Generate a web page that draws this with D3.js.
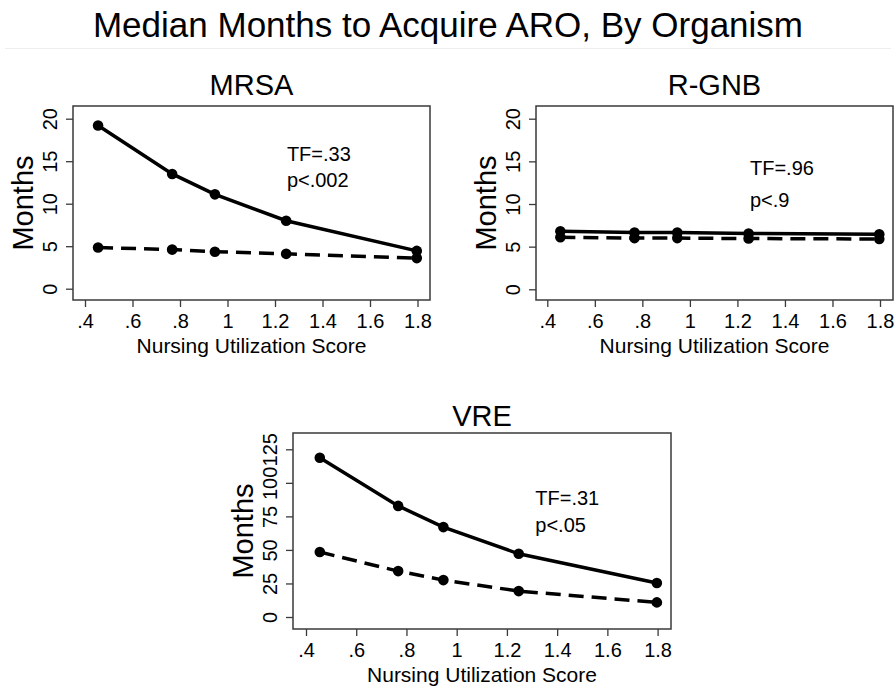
<!DOCTYPE html>
<html>
<head>
<meta charset="utf-8">
<script src="https://cdn.jsdelivr.net/npm/d3@7"></script>
<style>
  body { margin: 0; background: #fff; }
  text { font-family: "Liberation Sans", Arial, Helvetica, sans-serif; fill: #000; }
</style>
</head>
<body>
<svg id="chart" width="896" height="687"></svg>
<script>
// data
const scores = [0.455, 0.767, 0.947, 1.247, 1.797]
const xTicks = [0.4, 0.6, 0.8, 1, 1.2, 1.4, 1.6, 1.8]
const xTickLabels = ['.4', '.6', '.8', '1', '1.2', '1.4', '1.6', '1.8']

const mrsaSolid = [19.2, 13.5, 11.1, 8.0, 4.45]
const mrsaDashed = [4.85, 4.6, 4.35, 4.1, 3.6]
const gnbSolid = [6.8, 6.65, 6.65, 6.55, 6.45]
const gnbDashed = [6.1, 6.0, 6.0, 5.95, 5.9]
const vreSolid = [118.7, 82.8, 67.0, 47.1, 25.3]
const vreDashed = [48.4, 34.2, 27.5, 19.3, 10.9]

const smallTicks = [0, 5, 10, 15, 20]
const bigTicks = [0, 25, 50, 75, 100, 125]

const panelNames = ['MRSA', 'R-GNB', 'VRE']
const tfLabels = ['TF=.33', 'TF=.96', 'TF=.31']
const pLabels = ['p<.002', 'p<.9', 'p<.05']

// layout
const panels = [
  { name: panelNames[0], solid: mrsaSolid, dashed: mrsaDashed, yTicks: smallTicks,
    box: { left: 73, top: 106, right: 430, bottom: 300 }, pad: { l: 12, r: 12.5, t: 12.7, b: 11.3 },
    tf: tfLabels[0], p: pLabels[0], note: { x: 1.25, y1: 15, y2: 12 }, titleGap: 11 },
  { name: panelNames[1], solid: gnbSolid, dashed: gnbDashed, yTicks: smallTicks,
    box: { left: 536, top: 106, right: 893, bottom: 300 }, pad: { l: 11.3, r: 13, t: 12.7, b: 10.7 },
    tf: tfLabels[1], p: pLabels[1], note: { x: 1.253, y1: 13.4, y2: 9.7 }, titleGap: 11 },
  { name: panelNames[2], solid: vreSolid, dashed: vreDashed, yTicks: bigTicks,
    box: { left: 293, top: 433, right: 671, bottom: 629 }, pad: { l: 13, r: 13.4, t: 16.3, b: 12 },
    tf: tfLabels[2], p: pLabels[2], note: { x: 1.313, y1: 83.6, y2: 63.7 }, titleGap: 7 }
]

const svg = d3.select('#chart')

svg.append('text')
  .attr('x', 448)
  .attr('y', 37)
  .attr('text-anchor', 'middle')
  .attr('font-size', 35)
  .text('Median Months to Acquire ARO, By Organism')

svg.append('line')
  .attr('x1', 5).attr('x2', 891)
  .attr('y1', 48.5).attr('y2', 48.5)
  .attr('stroke', '#eeeeee')
  .attr('stroke-width', 1)

const frameColor = '#3a3a3a'

panels.forEach(pn => {
  const b = pn.box
  const x = d3.scaleLinear().domain([0.4, 1.8]).range([b.left + pn.pad.l, b.right - pn.pad.r])
  const yMax = d3.max(pn.yTicks)
  const y = d3.scaleLinear().domain([0, yMax]).range([b.bottom - pn.pad.b, b.top + pn.pad.t])

  const g = svg.append('g')

  // frame
  g.append('rect')
    .attr('x', b.left).attr('y', b.top)
    .attr('width', b.right - b.left).attr('height', b.bottom - b.top)
    .attr('fill', 'none')
    .attr('stroke', frameColor)
    .attr('stroke-width', 1.5)

  // x axis
  const xAxis = g.append('g')
    .attr('transform', `translate(0,${b.bottom})`)
    .call(d3.axisBottom(x).tickValues(xTicks).tickSize(7).tickSizeOuter(0)
      .tickFormat((d, i) => xTickLabels[i]))
  xAxis.select('.domain').remove()
  xAxis.selectAll('line').attr('stroke', frameColor).attr('stroke-width', 1.3)
  xAxis.selectAll('text')
    .attr('y', 28).attr('dy', null)
    .attr('font-size', 20)
    .attr('fill', '#000')

  // y axis, rotated labels
  const yAxis = g.append('g')
    .attr('transform', `translate(${b.left},0)`)
    .call(d3.axisLeft(y).tickValues(pn.yTicks).tickSize(7).tickSizeOuter(0))
  yAxis.select('.domain').remove()
  yAxis.selectAll('line').attr('stroke', frameColor).attr('stroke-width', 1.3)
  yAxis.selectAll('text')
    .attr('x', 0).attr('y', -16).attr('dy', null)
    .attr('transform', 'rotate(-90)')
    .attr('text-anchor', 'middle')
    .attr('font-size', 20)
    .attr('fill', '#000')

  // titles
  g.append('text')
    .attr('x', (b.left + b.right) / 2)
    .attr('y', b.top - pn.titleGap)
    .attr('text-anchor', 'middle')
    .attr('font-size', 29)
    .text(pn.name)

  g.append('text')
    .attr('transform', `translate(${b.left - 40},${(b.top + b.bottom) / 2}) rotate(-90)`)
    .attr('text-anchor', 'middle')
    .attr('font-size', 29)
    .text('Months')

  g.append('text')
    .attr('x', (b.left + b.right) / 2)
    .attr('y', b.bottom + 53)
    .attr('text-anchor', 'middle')
    .attr('font-size', 21)
    .text('Nursing Utilization Score')

  // annotations
  g.append('text')
    .attr('x', x(pn.note.x)).attr('y', y(pn.note.y1))
    .attr('font-size', 20)
    .text(pn.tf)
  g.append('text')
    .attr('x', x(pn.note.x)).attr('y', y(pn.note.y2))
    .attr('font-size', 20)
    .text(pn.p)

  // series
  const line = d3.line().x((d, i) => x(scores[i])).y(d => y(d))

  const series = [
    { values: pn.dashed, dash: '15,8' },
    { values: pn.solid, dash: null }
  ]
  series.forEach(s => {
    g.append('path')
      .datum(s.values)
      .attr('d', line)
      .attr('fill', 'none')
      .attr('stroke', '#000')
      .attr('stroke-width', 3.5)
      .attr('stroke-dasharray', s.dash)
    g.selectAll(null)
      .data(s.values)
      .enter()
      .append('circle')
      .attr('cx', (d, i) => x(scores[i]))
      .attr('cy', d => y(d))
      .attr('r', 5.3)
      .attr('fill', '#000')
  })
})
</script>
</body>
</html>
